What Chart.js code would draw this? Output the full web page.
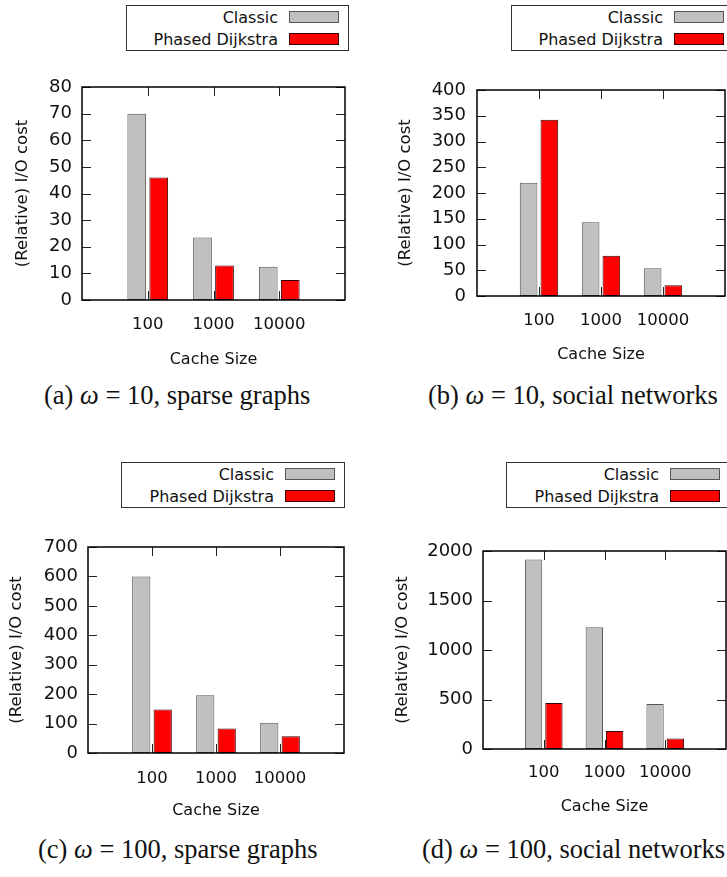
<!DOCTYPE html>
<html>
<head>
<meta charset="utf-8">
<script src="https://cdn.jsdelivr.net/npm/chart.js@4.4.0/dist/chart.umd.min.js"></script>
<style>
  html, body { margin: 0; padding: 0; background: #fff; width: 727px; height: 877px; overflow: hidden; position: relative; }
  canvas { position: absolute; }
  .legend { position: absolute; box-sizing: border-box; height: 46px; border: 1px solid #333; background: #fff;
            font: 16px "DejaVu Sans", sans-serif; color: #111; }
  .legend .row { display: flex; justify-content: flex-end; align-items: center; height: 22px; padding-right: 9px; }
  .legend .sw { display: inline-block; box-sizing: border-box; width: 50px; height: 12px; border: 1px solid #555; margin-left: 11px; }
  .caption { position: absolute; font: 26.5px "Liberation Serif", serif; color: #111; white-space: nowrap; line-height: 30px; }
</style>
</head>
<body>
<canvas id="ca" width="360" height="369" style="left:0;top:0"></canvas>
<canvas id="cb" width="370" height="364" style="left:370px;top:0"></canvas>
<canvas id="cc" width="360" height="380" style="left:0;top:440px"></canvas>
<canvas id="cd" width="370" height="376" style="left:370px;top:440px"></canvas>

<div class="caption" style="left:44px;top:380px">(a) <i>ω</i> = 10, sparse graphs</div>
<div class="caption" style="left:428px;top:380px">(b) <i>ω</i> = 10, social networks</div>
<div class="caption" style="left:38px;top:834px">(c) <i>ω</i> = 100, sparse graphs</div>
<div class="caption" style="left:422px;top:834px">(d) <i>ω</i> = 100, social networks</div>

<script>
// cache sizes on the x axis
const categories = ["100", "1000", "10000"];
const seriesNames = ["Classic", "Phased Dijkstra"];

// (a) w = 10, sparse graphs
const sparse10Classic = [70, 23.5, 12.5];
const sparse10Phased  = [46, 13, 7.5];
// (b) w = 10, social networks
const social10Classic = [220, 143, 54];
const social10Phased  = [342, 78, 21];
// (c) w = 100, sparse graphs
const sparse100Classic = [600, 196, 103];
const sparse100Phased  = [148, 83, 57];
// (d) w = 100, social networks
const social100Classic = [1915, 1229, 455];
const social100Phased  = [465, 182, 105];

// y axis ranges: [max, step]
const yAxisA = [80, 10];
const yAxisB = [400, 50];
const yAxisC = [700, 100];
const yAxisD = [2000, 500];

const FILL   = ["#c0c0c0", "#ff0000"];
const STROKE = ["#555555", "#330000"];
const FONT = "DejaVu Sans";

/* gnuplot-style frame with inward ticks on all four sides */
const framePlugin = {
  id: "frame",
  afterDatasetsDraw(chart) {
    const { ctx, chartArea: a, scales: { x, y } } = chart;
    ctx.save();
    ctx.strokeStyle = "#222";
    ctx.lineWidth = 1;
    ctx.beginPath();
    y.ticks.forEach(t => {
      const py = Math.round(y.getPixelForValue(t.value)) + 0.5;
      ctx.moveTo(a.left, py);  ctx.lineTo(a.left + 9, py);
      ctx.moveTo(a.right, py); ctx.lineTo(a.right - 9, py);
    });
    x.ticks.forEach((t, i) => {
      if (!x.getLabelForValue(t.value)) return;
      const px = Math.round(x.getPixelForTick(i)) + 0.5;
      ctx.moveTo(px, a.top);    ctx.lineTo(px, a.top + 9);
      ctx.moveTo(px, a.bottom); ctx.lineTo(px, a.bottom - 9);
    });
    ctx.stroke();
    ctx.strokeStyle = "#000";
    ctx.lineWidth = 1.5;
    ctx.strokeRect(a.left, a.top, a.right - a.left, a.bottom - a.top);
    ctx.restore();
  }
};

function dataset(i, values) {
  return {
    label: seriesNames[i],
    data: [null, ...values, null],   // empty slot either side, like gnuplot's xrange
    backgroundColor: FILL[i],
    borderColor: STROKE[i],
    borderWidth: 1,
    borderSkipped: false,
    categoryPercentage: 0.67,
    barPercentage: 0.85,
  };
}

function makeChart(id, classic, phased, yAxis, box) {
  return new Chart(document.getElementById(id), {
    type: "bar",
    data: { labels: ["", ...categories, ""], datasets: [dataset(0, classic), dataset(1, phased)] },
    options: {
      responsive: false,
      animation: false,
      devicePixelRatio: 1,
      layout: { padding: { left: box.padL, top: box.top, right: box.padR, bottom: 0 } },
      plugins: { legend: { display: false }, tooltip: { enabled: false } },
      scales: {
        x: {
          offset: false,
          grid: { display: false, drawTicks: false },
          border: { display: false },
          ticks: { autoSkip: false, maxRotation: 0, padding: box.xPad, color: "#111", font: { family: FONT, size: 16.5 } },
          title: { display: true, text: "Cache Size", padding: 0, color: "#111", font: { family: FONT, size: 16 } },
          afterFit: s => { s.height = box.xH; },
        },
        y: {
          min: 0, max: yAxis[0],
          grid: { display: false, drawTicks: false },
          border: { display: false },
          ticks: {
            stepSize: yAxis[1], padding: box.yPad, color: "#111", font: { family: FONT, size: 18 },
            callback: v => String(v),
          },
          title: { display: true, text: "(Relative) I/O cost", padding: 0, color: "#111", font: { family: FONT, size: 16.5 } },
          afterFit: s => { s.width = box.yW; },
        },
      },
    },
    plugins: [framePlugin],
  });
}

/* html legend: boxed, right-aligned to the plot frame */
function makeLegend(left, top, width) {
  const el = document.createElement("div");
  el.className = "legend";
  el.style.left = left + "px";
  el.style.top = top + "px";
  el.style.width = width + "px";
  seriesNames.forEach((name, i) => {
    const row = document.createElement("div");
    row.className = "row";
    const txt = document.createElement("span");
    txt.textContent = name;
    const sw = document.createElement("span");
    sw.className = "sw";
    sw.style.background = FILL[i];
    sw.style.borderColor = STROKE[i];
    row.append(txt, sw);
    el.appendChild(row);
  });
  document.body.appendChild(el);
}

makeChart("ca", sparse10Classic, sparse10Phased, yAxisA,
  { padL: 13, yW: 69, top: 87, padR: 11, xH: 69, xPad: 15, yPad: 10 });
makeChart("cb", social10Classic, social10Phased, yAxisB,
  { padL: 26, yW: 81, top: 90, padR: 7, xH: 68, xPad: 15, yPad: 11 });
makeChart("cc", sparse100Classic, sparse100Phased, yAxisC,
  { padL: 7, yW: 81, top: 107, padR: 15, xH: 67, xPad: 16, yPad: 10 });
makeChart("cd", social100Classic, social100Phased, yAxisD,
  { padL: 23, yW: 90, top: 111, padR: 10, xH: 67, xPad: 14, yPad: 10 });

makeLegend(126, 5, 223);
makeLegend(511, 5, 223);
makeLegend(121, 462, 224);
makeLegend(506, 462, 224);
</script>
</body>
</html>
